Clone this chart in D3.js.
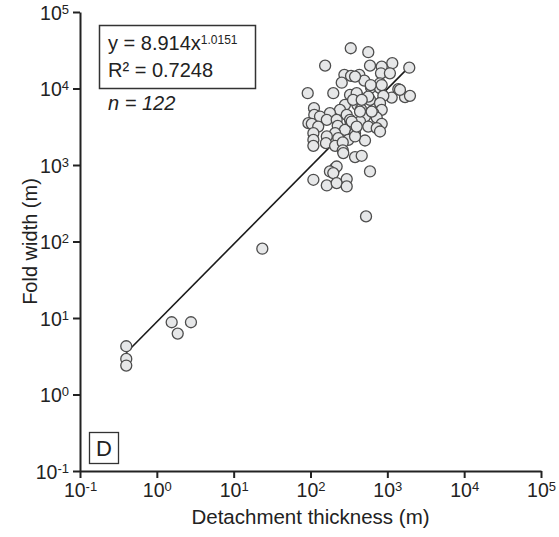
<!DOCTYPE html>
<html>
<head>
<meta charset="utf-8">
<script src="https://cdn.jsdelivr.net/npm/d3@7"></script>
<style>
  body { margin: 0; background: #fff; }
  svg text { font-family: "Liberation Sans", Arial, sans-serif; fill: #222; }
</style>
</head>
<body>
<div id="chart"></div>
<script>
// detachment thickness (m) and fold width (m)
const thickness = [334, 565, 155, 1930, 1160, 595, 845, 827, 1080, 276,
  337, 432, 502, 255, 803, 613, 803, 92, 198, 1390,
  1700, 1970, 1140, 887, 412, 327, 595, 803, 407, 281,
  242, 454, 845, 657, 111, 179, 296, 512, 728, 112,
  133, 163, 94, 104, 126, 219, 327, 334, 441, 565,
  845, 728, 226, 281, 209, 380, 109, 109, 163, 230,
  311, 512, 109, 159, 209, 263, 263, 267, 380, 464,
  209, 219, 179, 198, 595, 109, 163, 219, 296, 296,
  528, 1460, 608, 803, 441, 380, 23.6, 1.56, 2.78, 1.87,
  0.4, 0.4, 0.4, 380, 845, 399, 565, 358, 464, 626,
  344, 399];
const foldWidth = [33600, 29800, 19900, 18700, 21400, 19900, 19300, 15800, 15800, 15100,
  14600, 15100, 12700, 11900, 11700, 10300, 10100, 8680, 8680, 9790,
  7700, 8010, 7610, 8010, 8010, 8250, 7100, 6430, 6110, 6110,
  5260, 5370, 5260, 4760, 5530, 4760, 4520, 4300, 4170, 4520,
  4300, 3890, 3520, 3450, 3180, 3890, 3890, 3450, 3700, 3180,
  3450, 3030, 3250, 2880, 2610, 2610, 2610, 2130, 2360, 2250,
  2130, 2090, 1780, 1930, 1780, 1970, 1550, 1430, 1270, 1320,
  911, 956, 823, 784, 823, 641, 540, 580, 654, 524,
  213, 9590, 11100, 2740, 4990, 2360, 80.5, 8.8, 8.8, 6.25,
  4.27, 2.92, 2.39, 14300, 11100, 8680, 7840, 7100, 7100, 4990,
  3700, 3180];

// power-law fit y = a * x^b
const fitA = 8.914;
const fitB = 1.0151;
const fitRange = [0.4, 1950];

const tickExps = [-1, 0, 1, 2, 3, 4, 5];

const W = 559, H = 537;
const plot = { left: 80, right: 541, top: 12, bottom: 471 };

const svg = d3.select("#chart").append("svg")
  .attr("width", W)
  .attr("height", H);

const x = d3.scaleLog().domain([0.1, 1e5]).range([plot.left, plot.right]);
const y = d3.scaleLog().domain([0.1, 1e5]).range([plot.bottom, plot.top]);

const tickVals = tickExps.map(e => Math.pow(10, e));

// axes
const xAxis = svg.append("g")
  .attr("transform", `translate(0,${plot.bottom})`)
  .call(d3.axisBottom(x).tickValues(tickVals).tickSize(7).tickSizeOuter(0).tickPadding(5));

const yAxis = svg.append("g")
  .attr("transform", `translate(${plot.left},0)`)
  .call(d3.axisLeft(y).tickValues(tickVals).tickSize(7).tickSizeOuter(0).tickPadding(4));

[xAxis, yAxis].forEach(ax => {
  ax.select(".domain").attr("stroke", "#222").attr("stroke-width", 2);
  ax.selectAll(".tick line").attr("stroke", "#222").attr("stroke-width", 2);
  ax.selectAll(".tick text")
    .style("font-size", "19.5px")
    .style("font-family", "Liberation Sans, Arial, sans-serif")
    .attr("fill", "#222")
    .each(function(d) {
      const t = d3.select(this).text("");
      t.append("tspan").text("10");
      t.append("tspan")
        .attr("dy", "-0.45em")
        .style("font-size", "13px")
        .text(Math.round(Math.log10(d)));
    });
});
xAxis.selectAll(".tick text").attr("dy", "0.71em");
yAxis.selectAll(".tick text").attr("dy", "0.36em");

// axis titles
svg.append("text")
  .attr("x", (plot.left + plot.right) / 2)
  .attr("y", 524)
  .attr("text-anchor", "middle")
  .style("font-size", "20.5px")
  .text("Detachment thickness (m)");

svg.append("text")
  .attr("transform", "rotate(-90)")
  .attr("x", -(plot.top + plot.bottom) / 2)
  .attr("y", 37)
  .attr("text-anchor", "middle")
  .style("font-size", "20px")
  .text("Fold width (m)");

// fit line
const fitData = fitRange.map(v => [v, fitA * Math.pow(v, fitB)]);
svg.append("path")
  .datum(fitData)
  .attr("fill", "none")
  .attr("stroke", "#1a1a1a")
  .attr("stroke-width", 1.6)
  .attr("d", d3.line().x(d => x(d[0])).y(d => y(d[1])));

// points
svg.append("g")
  .selectAll("circle")
  .data(thickness.map((t, i) => [t, foldWidth[i]]))
  .join("circle")
  .attr("cx", d => x(d[0]))
  .attr("cy", d => y(d[1]))
  .attr("r", 5.5)
  .attr("fill", "#e6e7e8")
  .attr("stroke", "#4d4d4d")
  .attr("stroke-width", 1.3);

// equation box
svg.append("rect")
  .attr("x", 99.5).attr("y", 25.5)
  .attr("width", 156).attr("height", 63)
  .attr("fill", "#fff")
  .attr("stroke", "#333")
  .attr("stroke-width", 1.5);

const eq = svg.append("text")
  .attr("x", 108).attr("y", 50)
  .style("font-size", "20px");
eq.append("tspan").text(`y = ${fitA}x`);
eq.append("tspan").attr("dy", "-0.5em").style("font-size", "12px").text(fitB);

svg.append("text")
  .attr("x", 108).attr("y", 77)
  .style("font-size", "20px")
  .text("R\u00b2 = 0.7248");

svg.append("text")
  .attr("x", 108).attr("y", 110)
  .style("font-size", "20px")
  .style("font-style", "italic")
  .text(`n = 122`);

// panel label
svg.append("rect")
  .attr("x", 89.5).attr("y", 432.5)
  .attr("width", 29).attr("height", 31)
  .attr("fill", "#fff")
  .attr("stroke", "#333")
  .attr("stroke-width", 1.3);

svg.append("text")
  .attr("x", 104).attr("y", 456)
  .attr("text-anchor", "middle")
  .style("font-size", "22px")
  .text("D");
</script>
</body>
</html>
